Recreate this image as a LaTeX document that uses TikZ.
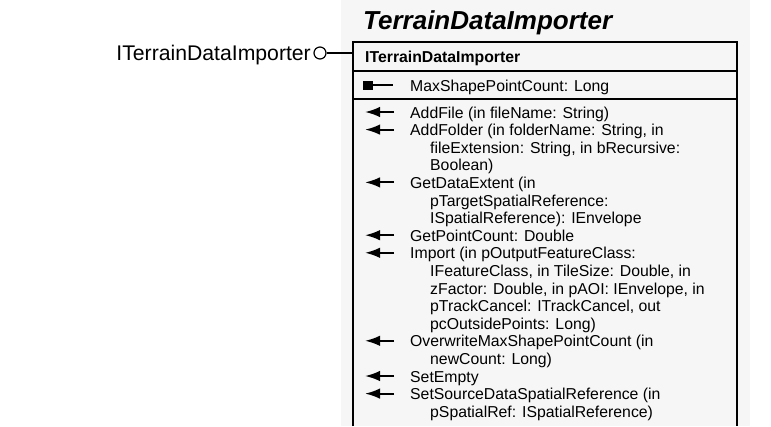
\documentclass[tikz,border=0pt]{standalone}
\usepackage{fontspec}
\setmainfont{Liberation Sans}
\usetikzlibrary{arrows.meta}
\definecolor{panelgray}{RGB}{246,246,246}
\tikzset{
  member/.style={anchor=base west, inner sep=0pt, font=\fontsize{15.8}{17.6}\selectfont},
  headtext/.style={anchor=base west, inner sep=0pt, font=\bfseries\fontsize{15.8}{17.6}\selectfont},
  titletext/.style={anchor=base west, inner sep=0pt, font=\bfseries\itshape\fontsize{26}{28}\selectfont},
  lollilabel/.style={anchor=base east, inner sep=0pt, font=\fontsize{21.2}{24}\selectfont},
  marrow/.style={line width=2pt, -{Latex[length=15pt,width=10.5pt]}},
  boxline/.style={line width=1.5pt},
  lollipop/.style={circle, draw, line width=1.2pt, minimum size=12pt, inner sep=0pt},
}
\begin{document}
\begin{tikzpicture}[x=1pt,y=1pt]
\useasboundingbox (0,0) rectangle (771,-426);
\fill[panelgray] (341,0) rectangle (750,-426);

% title
\node[titletext] (title) at (363,-29) {TerrainDataImporter};

% class box
\draw[boxline] (353,-426) -- (353,-42) -- (737,-42) -- (737,-426);
\draw[boxline] (353,-71) -- (737,-71);
\draw[boxline] (353,-99) -- (737,-99);

% lollipop interface
\node[lollipop] (lolli) at (320,-53) {};
\coordinate (boxw) at (353,-53);
\draw[line width=1.2pt] (lolli) -- (boxw);
\node[lollilabel] (ilabel) at (311,-60.5) {ITerrainDataImporter};

% header
\node[headtext] (head) at (365,-62.5) {ITerrainDataImporter};

% property
\fill (362.5,-80.5) rectangle (372.5,-89.5);
\draw[line width=2pt] (372,-85) -- (393,-85);
\node[member] (prop) at (410,-91) {MaxShapePointCount: Long};

% method arrows
\foreach \y in {112,129.6,182.4,235.2,252.8,340.8,376,393.6}
  \draw[marrow] (394,-\y) -- (365,-\y);

% method texts (baseline = centre + 6)
\node[member] (l0)  at (410,-118)   {AddFile (in fileName: String)};
\node[member] (l1)  at (410,-135.6) {AddFolder (in folderName: String, in};
\node[member] (l2)  at (430,-153.2) {fileExtension: String, in bRecursive:};
\node[member] (l3)  at (430,-170.8) {Boolean)};
\node[member] (l4)  at (410,-188.4) {GetDataExtent (in};
\node[member] (l5)  at (430,-206)   {pTargetSpatialReference:};
\node[member] (l6)  at (430,-223.6) {ISpatialReference): IEnvelope};
\node[member] (l7)  at (410,-241.2) {GetPointCount: Double};
\node[member] (l8)  at (410,-258.8) {Import (in pOutputFeatureClass:};
\node[member] (l9)  at (430,-276.4) {IFeatureClass, in TileSize: Double, in};
\node[member] (l10) at (430,-294)   {zFactor: Double, in pAOI: IEnvelope, in};
\node[member] (l11) at (430,-311.6) {pTrackCancel: ITrackCancel, out};
\node[member] (l12) at (430,-329.2) {pcOutsidePoints: Long)};
\node[member] (l13) at (410,-346.8) {OverwriteMaxShapePointCount (in};
\node[member] (l14) at (430,-364.4) {newCount: Long)};
\node[member] (l15) at (410,-382)   {SetEmpty};
\node[member] (l16) at (410,-399.6) {SetSourceDataSpatialReference (in};
\node[member] (l17) at (430,-417.2) {pSpatialRef: ISpatialReference)};
\end{tikzpicture}
\end{document}
